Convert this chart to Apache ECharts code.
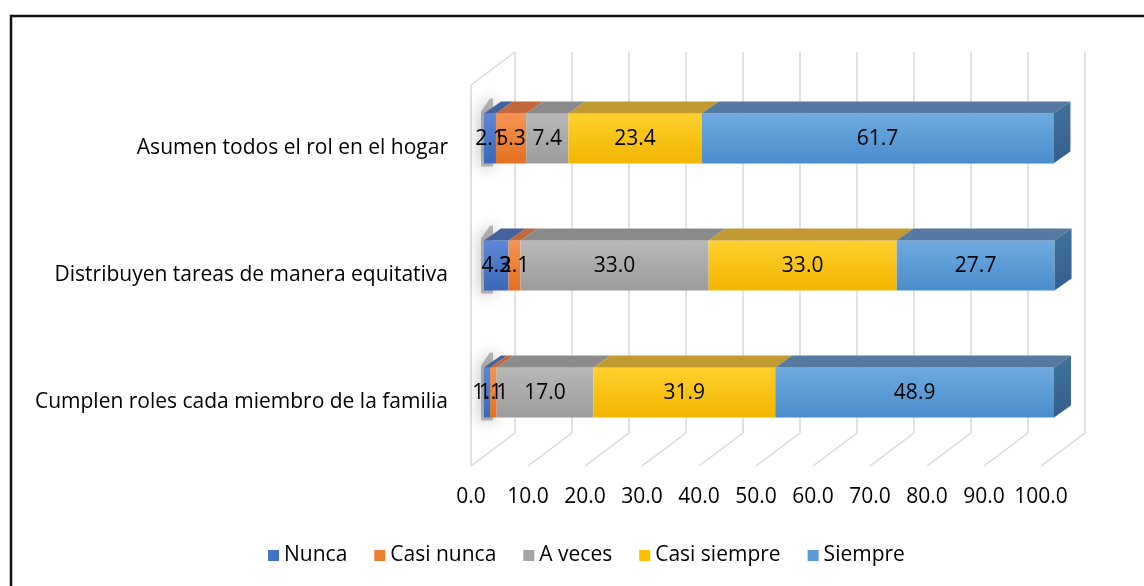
<!DOCTYPE html>
<html>
<head>
<meta charset="utf-8">
<script src="https://cdn.jsdelivr.net/npm/echarts@6/dist/echarts.min.js"></script>
<style>
  html, body { margin: 0; padding: 0; background: #fff; }
  #chart { width: 1144px; height: 586px; }
</style>
</head>
<body>
<div id="chart"></div>
<script>
// datos de la figura
const categories = [
  'Asumen todos el rol en el hogar',
  'Distribuyen tareas de manera equitativa',
  'Cumplen roles cada miembro de la familia'
];
const seriesNames = ['Nunca', 'Casi nunca', 'A veces', 'Casi siempre', 'Siempre'];
const nunca = [2.1, 4.3, 1.1];
const casiNunca = [5.3, 2.1, 1.1];
const aVeces = [7.4, 33.0, 17.0];
const casiSiempre = [23.4, 33.0, 31.9];
const siempre = [61.7, 27.7, 48.9];
const xTicks = [0, 10, 20, 30, 40, 50, 60, 70, 80, 90, 100];

const allValues = [nunca, casiNunca, aVeces, casiSiempre, siempre];

// colores: [frente claro, frente oscuro, cara superior, lateral]
const palette = [
  ['#5d88d8', '#3b67b9', '#45629d', '#34548f'],
  ['#f59454', '#e2711f', '#c1673a', '#b35a20'],
  ['#b8b8b8', '#9c9c9c', '#8a8a8a', '#7d7d7d'],
  ['#ffd02e', '#f2b600', '#c19b31', '#b08a10'],
  ['#6eaae0', '#4a8dcc', '#5579a0', '#33608c']
];
const legendColors = ['#4472C4', '#ED7D31', '#A5A5A5', '#FFC000', '#5B9BD5'];

const FONT = '"Open Sans", Lato, sans-serif';
const FS = 21;
const OFF_X = 13;     // desplazamiento del frente de las barras
const BAR_H = 50;
const BAR_DY = -10;   // centro de la barra respecto a la categoría
const DEPTH_X = 17, DEPTH_Y = -12;
const FLOOR_X = 44, FLOOR_Y = -33;

const chart = echarts.init(document.getElementById('chart'));

// construir los tramos apilados
function buildSegments(idx) {
  return categories.map((c, ci) => {
    let start = 0;
    for (let k = 0; k < idx; k++) start += allValues[k][ci];
    const v = allValues[idx][ci];
    return [ci, start, start + v, v, idx];
  });
}

function segBox(api) {
  const p0 = api.coord([api.value(1), api.value(0)]);
  const p1 = api.coord([api.value(2), api.value(0)]);
  const yc = p0[1] + BAR_DY;
  return { x0: p0[0] + OFF_X, x1: p1[0] + OFF_X, yc: yc, top: yc - BAR_H / 2, bottom: yc + BAR_H / 2 };
}

function renderSegment(params, api) {
  const idx = api.value(4);
  const b = segBox(api);
  const col = palette[idx];
  const children = [];
  if (idx === 0) {
    // sombra difusa en la pared izquierda
    children.push({
      type: 'polygon',
      shape: { points: [[b.x0 - 3, b.bottom + 3], [b.x0 - 3, b.top - 2], [b.x0 + 6, b.top - 15], [b.x0 + 9, b.top - 15], [b.x0 + 9, b.bottom + 3]] },
      style: { fill: 'rgba(70,70,70,0.35)', shadowBlur: 16, shadowColor: 'rgba(20,20,20,0.95)' }
    });
  }
  children.push({
    type: 'rect',
    shape: { x: b.x0, y: b.top, width: b.x1 - b.x0, height: BAR_H },
    style: {
      fill: new echarts.graphic.LinearGradient(0, 0, 0, 1, [
        { offset: 0, color: col[0] },
        { offset: 1, color: col[1] }
      ])
    }
  });
  children.push({
    type: 'polygon',
    shape: { points: [[b.x0, b.top], [b.x1, b.top], [b.x1 + DEPTH_X, b.top + DEPTH_Y], [b.x0 + DEPTH_X, b.top + DEPTH_Y]] },
    style: { fill: col[2] }
  });
  if (idx === allValues.length - 1) {
    children.push({
      type: 'polygon',
      shape: { points: [[b.x1, b.top], [b.x1 + DEPTH_X, b.top + DEPTH_Y], [b.x1 + DEPTH_X, b.bottom + DEPTH_Y], [b.x1, b.bottom]] },
      style: {
        fill: new echarts.graphic.LinearGradient(0, 0, 0, 1, [
          { offset: 0, color: '#42709c' },
          { offset: 1, color: col[3] }
        ])
      }
    });
  }
  return { type: 'group', children: children };
}

// etiquetas de valor, encima de todas las barras
function renderLabel(params, api) {
  const b = segBox(api);
  return {
    type: 'text',
    style: {
      text: api.value(3).toFixed(1),
      x: (b.x0 + b.x1) / 2,
      y: b.yc + 1,
      align: 'center',
      verticalAlign: 'middle',
      textAlign: 'center',
      textVerticalAlign: 'middle',
      fontSize: FS,
      fontFamily: FONT,
      fill: '#000'
    }
  };
}

// piso y pared del fondo
function renderWalls(params, api) {
  const cs = params.coordSys;
  const p = api.coord([api.value(0), 0]);
  const x = p[0];
  const yFront = cs.y + cs.height;
  const lineStyle = { stroke: '#d9d9d9', lineWidth: 1.5, fill: null };
  const children = [
    { type: 'line', shape: { x1: x, y1: yFront, x2: x + FLOOR_X, y2: yFront + FLOOR_Y }, style: lineStyle },
    { type: 'line', shape: { x1: x + FLOOR_X, y1: yFront + FLOOR_Y, x2: x + FLOOR_X, y2: cs.y + FLOOR_Y }, style: lineStyle }
  ];
  if (params.dataIndex === 0) {
    children.push(
      { type: 'line', shape: { x1: x, y1: yFront, x2: x, y2: cs.y }, style: lineStyle },
      { type: 'line', shape: { x1: x, y1: cs.y, x2: x + FLOOR_X, y2: cs.y + FLOOR_Y }, style: lineStyle }
    );
  }
  return { type: 'group', children: children };
}

const series = [{
  type: 'custom',
  name: 'walls',
  renderItem: renderWalls,
  data: xTicks.map(t => [t]),
  encode: { x: 0 },
  silent: true,
  z: 1
}];
const labelData = [];
seriesNames.forEach((name, i) => {
  const segs = buildSegments(i);
  segs.forEach(s => labelData.push(s));
  series.push({
    type: 'custom',
    name: name,
    renderItem: renderSegment,
    data: segs,
    encode: { x: [1, 2], y: 0 },
    itemStyle: { color: legendColors[i] },
    z: 2 + i
  });
});
series.push({
  type: 'custom',
  name: 'labels',
  renderItem: renderLabel,
  data: labelData,
  encode: { x: [1, 2], y: 0 },
  silent: true,
  z: 20
});

chart.setOption({
  animation: false,
  backgroundColor: '#fff',
  textStyle: { fontFamily: FONT },
  graphic: [{
    type: 'rect',
    shape: { x: 11, y: 16, width: 1300, height: 700 },
    style: { fill: null, stroke: '#111', lineWidth: 2.5 },
    z: 0
  }],
  grid: { left: 471, right: 103, top: 85, bottom: 120 },
  xAxis: {
    type: 'value',
    min: 0,
    max: 100,
    interval: 10,
    axisLine: { show: false },
    axisTick: { show: false },
    splitLine: { show: false },
    axisLabel: {
      fontSize: FS,
      color: '#000',
      margin: 21,
      formatter: (v) => v.toFixed(1)
    }
  },
  yAxis: {
    type: 'category',
    inverse: true,
    data: categories,
    axisLine: { show: false },
    axisTick: { show: false },
    axisLabel: { fontSize: FS, color: '#000', margin: 23 }
  },
  legend: {
    data: seriesNames,
    left: 263,
    top: 540,
    itemWidth: 11,
    itemHeight: 11,
    itemGap: 27,
    icon: 'rect',
    textStyle: { fontSize: FS, color: '#000', fontFamily: FONT }
  },
  series: series
});

window.addEventListener('resize', () => chart.resize());
</script>
</body>
</html>
